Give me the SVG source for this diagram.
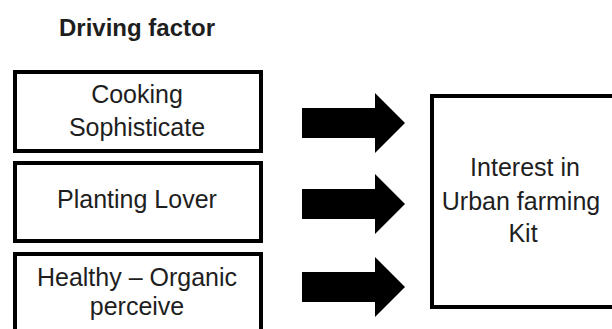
<svg xmlns="http://www.w3.org/2000/svg" width="612" height="329" viewBox="0 0 612 329">
<style>
.box{fill:#fff;stroke:#000;stroke-width:4}
.t{font-family:"Liberation Sans",Arial,sans-serif;font-size:25px;fill:#1e1e1e;text-anchor:middle}
.title{font-family:"Liberation Sans",Arial,sans-serif;font-size:24px;font-weight:bold;fill:#1e1e1e;text-anchor:middle}
.arrow{fill:#000}
</style>
<rect width="612" height="329" fill="#fff"/>
<text class="title" x="137" y="36">Driving factor</text>
<g id="cooking">
<rect class="box" x="15" y="72" width="246" height="79"/>
<text class="t" x="137" y="103">Cooking</text>
<text class="t" x="137" y="136">Sophisticate</text>
</g>
<g id="planting">
<rect class="box" x="15" y="163" width="246" height="78"/>
<text class="t" x="137" y="208">Planting Lover</text>
</g>
<g id="healthy">
<rect class="box" x="15" y="254" width="246" height="85"/>
<text class="t" x="137" y="286">Healthy – Organic</text>
<text class="t" x="137" y="315">perceive</text>
</g>
<g id="interest">
<rect class="box" x="432" y="96" width="200" height="211"/>
<text class="t" x="525" y="176">Interest in</text>
<text class="t" x="521" y="210">Urban farming</text>
<text class="t" x="523" y="242">Kit</text>
</g>
<g id="connectors">
<polygon class="arrow" points="302,108 375,108 375,93 405,123 375,153 375,138 302,138"/>
<polygon class="arrow" points="302,189 375,189 375,174 405,204 375,234 375,219 302,219"/>
<polygon class="arrow" points="302,272 375,272 375,257 405,287 375,317 375,302 302,302"/>
</g>
</svg>
